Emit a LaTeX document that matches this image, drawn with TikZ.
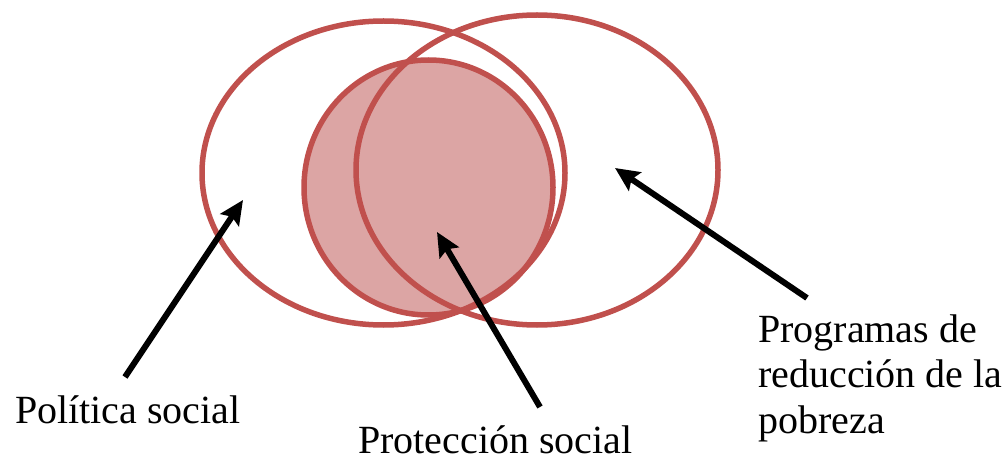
\documentclass[tikz,border=0pt]{standalone}
\usepackage{fontspec}
\setmainfont{Liberation Serif}
\usetikzlibrary{arrows.meta}
\definecolor{vennred}{HTML}{C0504D}
\definecolor{vennfill}{HTML}{DCA5A4}
\tikzset{
  set/.style={draw=vennred,line width=5.5pt},
  pointer/.style={line width=6pt,-{Stealth[length=24pt,width=22pt,inset=4pt]}},
  lbl/.style={font=\fontsize{40}{45.5}\selectfont,inner sep=0pt,anchor=base west,align=left}
}
\begin{document}
\begin{tikzpicture}[x=1pt,y=-1pt]
    \useasboundingbox (0,0) rectangle (1007,465);
    \coordinate (P) at (383.5,173); \coordinate (Q) at (537,170);
    \coordinate (S) at (428.5,187.5);
    \draw[set,fill=vennfill] (S) ellipse [x radius=124.5,y radius=127.5];
    \draw[set] (P) ellipse [x radius=181.5,y radius=152];
    \draw[set] (Q) ellipse [x radius=181,y radius=155];
    \coordinate (a1) at (125,377); \coordinate (b1) at (243,200);
    \coordinate (a2) at (540,407); \coordinate (b2) at (437,232);
    \coordinate (a3) at (807,298); \coordinate (b3) at (615,168);
    \draw[pointer] (a1)--(b1); \draw[pointer] (a2)--(b2);
    \draw[pointer] (a3)--(b3);
    \node[lbl] (pol) at (15,423) {Política social};
    \node[lbl] (pro) at (358,453) {Protección social};
    \node[lbl] (prog) at (758,433) {Programas de\\reducción de la\\pobreza};
  \end{tikzpicture}
\end{document}
